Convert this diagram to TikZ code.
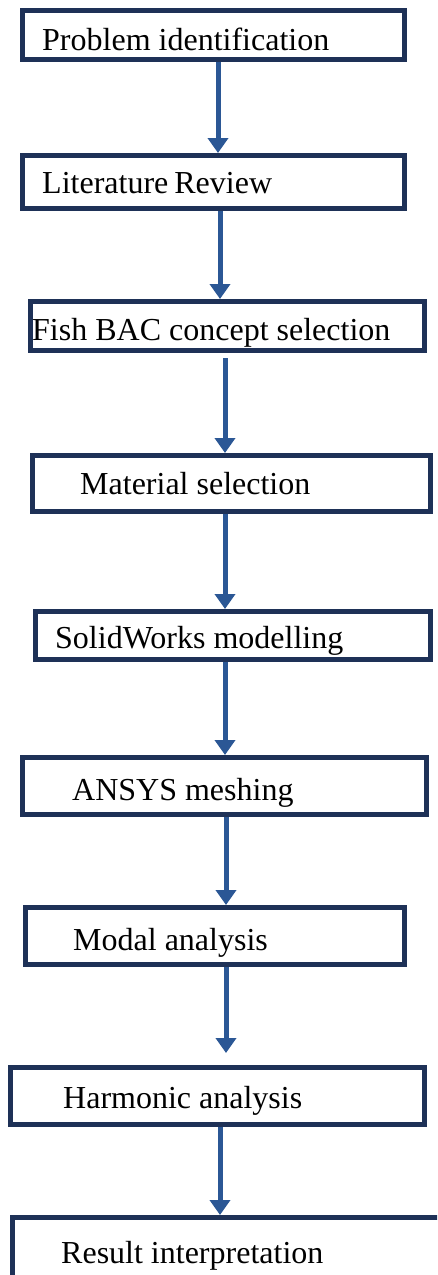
\documentclass[tikz,border=0pt]{standalone}
\usepackage{fontspec}
\setmainfont{Liberation Serif}
\usetikzlibrary{arrows.meta}
\definecolor{boxc}{HTML}{1E3157}
\definecolor{arrc}{HTML}{2B5795}
\begin{document}
\begin{tikzpicture}[x=1pt,y=-1pt,
  box/.style={draw=boxc,line width=5pt,rectangle,inner sep=0pt,fill=white},
  txt/.style={inner sep=0pt,anchor=base west,font=\fontsize{32}{38}\selectfont},
  arr/.style={draw=arrc,line width=5pt,-{Triangle[width=20pt,length=15pt]}}]
\useasboundingbox (0,0) rectangle (437,1275);
\clip (0,0) rectangle (437,1275);
% boxes
\node[box,minimum width=382pt,minimum height=49pt] (b1) at (213.5,35) {};
\node[box,minimum width=382pt,minimum height=53pt] (b2) at (213.5,182) {};
\node[box,minimum width=394pt,minimum height=49pt] (b3) at (227.5,326) {};
\node[box,minimum width=398pt,minimum height=56pt] (b4) at (231.5,483.5) {};
\node[box,minimum width=395pt,minimum height=48pt] (b5) at (233,635.5) {};
\node[box,minimum width=404pt,minimum height=57pt] (b6) at (224.5,786) {};
\node[box,minimum width=379pt,minimum height=57pt] (b7) at (215,936) {};
\node[box,minimum width=414pt,minimum height=57pt] (b8) at (217.5,1096) {};
\node[box,minimum width=457.5pt,minimum height=82.5pt] (b9) at (241.25,1258.75) {};
% texts
\node[txt] (t1) at (42,50) {Problem identification};
\node[txt] (t2) at (42,193) {Literature\kern-2pt\ Review};
\node[txt] (t3) at (32,340) {Fish BAC concept selection};
\node[txt] (t4) at (80,494) {Material selection};
\node[txt] (t5) at (55,648) {SolidWorks modelling};
\node[txt] (t6) at (72,800) {ANSYS meshing};
\node[txt] (t7) at (73,950) {Modal analysis};
\node[txt] (t8) at (63,1108) {Harmonic analysis};
\node[txt] (t9) at (61,1263) {Result interpretation};
% arrows
\draw[arr] (b1.south -| 218,0) -- (b2.north -| 218,0);
\draw[arr] (b2.south -| 220,0) -- (b3.north -| 220,0);
\draw[arr,shorten <=5pt] (b3.south -| 225,0) -- (b4.north -| 225,0);
\draw[arr] (b4.south -| 225,0) -- (b5.north -| 225,0);
\draw[arr] (b5.south -| 225,0) -- (b6.north -| 225,0);
\draw[arr] (b6.south -| 226,0) -- (b7.north -| 226,0);
\draw[arr,shorten >=12pt] (b7.south -| 226,0) -- (b8.north -| 226,0);
\draw[arr] (b8.south -| 220,0) -- (b9.north -| 220,0);
\end{tikzpicture}
\end{document}
